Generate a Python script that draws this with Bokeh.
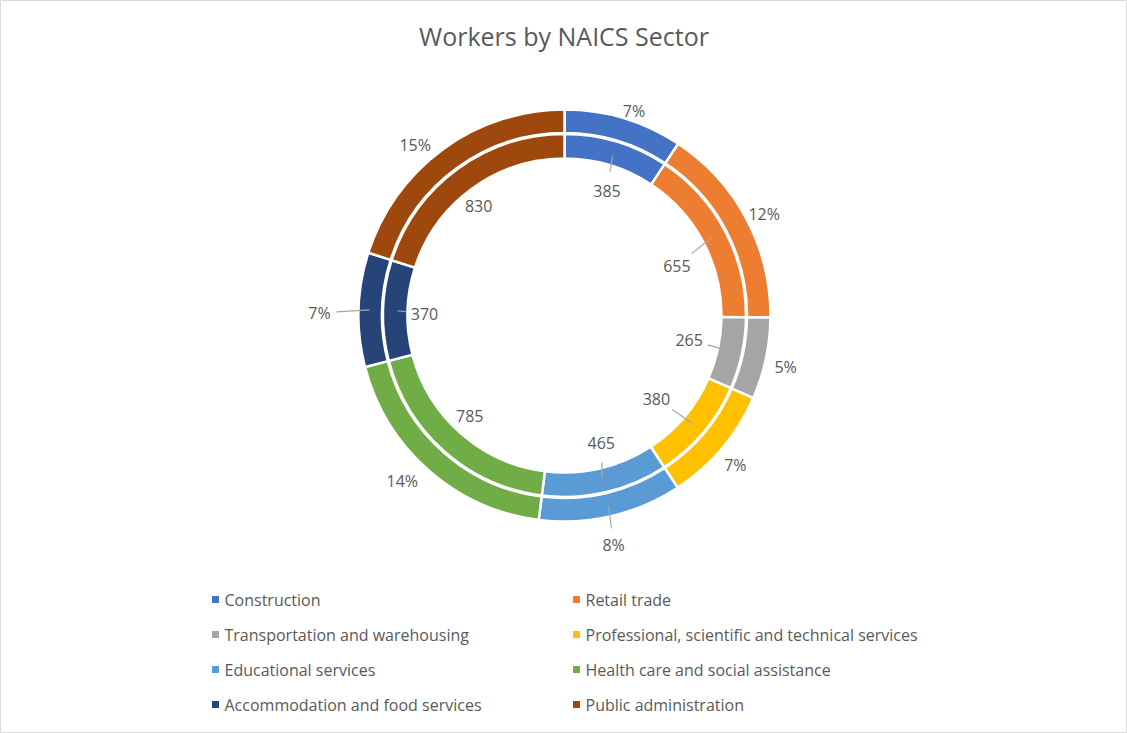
import numpy as np
from bokeh.plotting import figure
from bokeh.models import ColumnDataSource, Range1d
from bokeh.embed import file_html
from bokeh.resources import INLINE
from bokeh.core.properties import value

# ---------------- data ----------------
title = "Workers by NAICS Sector"
sectors = ["Construction", "Retail trade", "Transportation and warehousing",
           "Professional, scientific and technical services", "Educational services",
           "Health care and social assistance", "Accommodation and food services",
           "Public administration"]
workers = [385, 655, 265, 380, 465, 785, 370, 830]
share_pct = [7, 12, 5, 7, 8, 14, 7, 15]
colors = ["#4472C4", "#ED7D31", "#A5A5A5", "#FFC000", "#5B9BD5", "#70AD47", "#264478", "#9E480E"]

# ---------------- layout / style ----------------
W, H = 1127, 733
CX, CY = 564, H - 315
R_IN0, R_IN1 = 157, 181.5
R_OUT0, R_OUT1 = 182.5, 206
FONT = value("Open Sans")
TXT = "#595959"
# label placement tweaks (radius in px, angle tweak in degrees)
inner_r = [132, 123, 127, 124, 133, 138, 140, 139]
inner_da = [2, 4, -1, 2, -3, 2, -1, -2]
outer_r = [216, 224, 227, 227, 235, 232, 245, 227]
outer_da = [2, 1, 1, 1, 1, 3, -1, -5]
inner_leader = [True, True, True, True, True, False, True, False]
outer_leader = [False, False, False, False, True, False, True, False]

vals = np.array(workers, dtype=float)
frac = vals / vals.sum()
cum_end = np.cumsum(frac)
cum_start = cum_end - frac
start_ang = np.pi / 2 - 2 * np.pi * cum_start
end_ang = np.pi / 2 - 2 * np.pi * cum_end
mid_deg = 360 * (cum_start + cum_end) / 2  # clockwise from top

p = figure(width=W, height=H, output_backend="svg", toolbar_location=None,
           x_range=Range1d(0, W), y_range=Range1d(0, H), min_border=0,
           background_fill_color="white", border_fill_color="white")
p.axis.visible = False
p.grid.visible = False
p.outline_line_color = "#D9D9D9"

src = ColumnDataSource(dict(start=start_ang, end=end_ang, color=colors))
p.annular_wedge(x=CX, y=CY, inner_radius=R_IN0, outer_radius=R_IN1,
                start_angle="start", end_angle="end", direction="clock",
                fill_color="color", line_color="white", line_width=2.5, source=src)
p.annular_wedge(x=CX, y=CY, inner_radius=R_OUT0, outer_radius=R_OUT1,
                start_angle="start", end_angle="end", direction="clock",
                fill_color="color", line_color="white", line_width=2.5, source=src)


def polar(r, deg):
    a = np.radians(deg)
    return CX + r * np.sin(a), CY + r * np.cos(a)


lx, ly, lt = [], [], []
seg_x0, seg_y0, seg_x1, seg_y1 = [], [], [], []
for i in range(len(workers)):
    # inner value labels
    x, y = polar(inner_r[i], mid_deg[i] + inner_da[i])
    lx.append(x); ly.append(y); lt.append(str(workers[i]))
    if inner_leader[i]:
        px, py = polar(167, mid_deg[i])
        d = np.hypot(px - x, py - y)
        qx, qy = x + (px - x) * 19 / d, y + (py - y) * 19 / d
        seg_x0.append(px); seg_y0.append(py); seg_x1.append(qx); seg_y1.append(qy)
    # outer percent labels
    x, y = polar(outer_r[i], mid_deg[i] + outer_da[i])
    lx.append(x); ly.append(y); lt.append(f"{share_pct[i]}%")
    if outer_leader[i]:
        px, py = polar(195, mid_deg[i])
        d = np.hypot(px - x, py - y)
        qx, qy = x + (px - x) * 17 / d, y + (py - y) * 17 / d
        seg_x0.append(px); seg_y0.append(py); seg_x1.append(qx); seg_y1.append(qy)

p.segment(x0=seg_x0, y0=seg_y0, x1=seg_x1, y1=seg_y1, line_color="#A6A6A6", line_width=1.2)
p.text(x=lx, y=ly, text=lt, text_align="center", text_baseline="middle",
       text_font=FONT, text_font_size="16px", text_color=TXT)

# title
p.text(x=[W / 2], y=[H - 35], text=[title], text_align="center", text_baseline="middle",
       text_font=FONT, text_font_size="25px", text_color=TXT)

# legend
col_x = [215, 576]
row_y = [599, 634, 669, 704]
mx, my, tx, ty = [], [], [], []
for i, name in enumerate(sectors):
    c, r = i % 2, i // 2
    mx.append(col_x[c]); my.append(H - row_y[r])
    tx.append(col_x[c] + 9); ty.append(H - row_y[r])
p.scatter(x=mx, y=my, marker="square", size=7, fill_color=colors, line_color=None)
p.text(x=tx, y=ty, text=sectors, text_align="left", text_baseline="middle",
       text_font=FONT, text_font_size="16px", text_color=TXT)

open("out.html", "w").write(file_html(p, INLINE))
